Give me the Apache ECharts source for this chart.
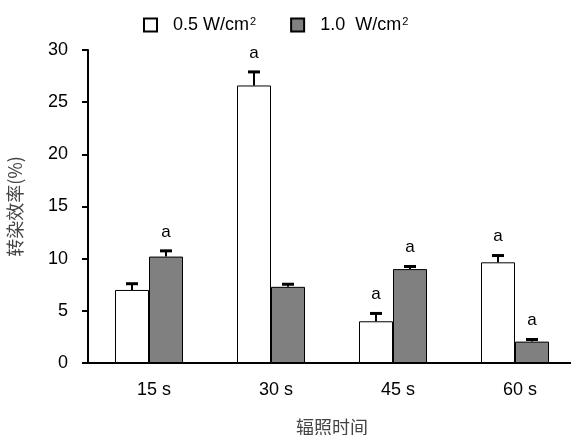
<!DOCTYPE html>
<html>
<head>
<meta charset="utf-8">
<script src="https://cdn.jsdelivr.net/npm/echarts@6/dist/echarts.min.js"></script>
<style>html,body{margin:0;padding:0;background:#fff}#c{width:571px;height:435px}</style>
</head>
<body>
<div id="c"></div>
<script>
var categories = ['15 s', '30 s', '45 s', '60 s'];
var seriesNames = ['0.5 W/cm2', '1.0  W/cm2'];
var lowPower = [7.0, 26.6, 4.0, 9.65];
var lowPowerErr = [0.6, 1.3, 0.75, 0.65];
var lowPowerSig = ['', 'a', 'a', 'a'];
var highPower = [10.2, 7.3, 9.0, 2.05];
var highPowerErr = [0.55, 0.25, 0.25, 0.2];
var highPowerSig = ['a', '', 'a', 'a'];
var yTicks = [0, 5, 10, 15, 20, 25, 30];

var FONT = '"Liberation Sans", Arial, sans-serif';
var CJK = '"Noto Sans CJK SC", sans-serif';
var BAR_W = 34;

function errData(means, errs, sig) {
  return means.map(function (m, i) { return [i, m, errs[i], sig[i]]; });
}

function makeErrRender(side) {
  return function (params, api) {
    var idx = api.value(0), mean = api.value(1), err = api.value(2);
    var p0 = api.coord([idx, mean]);
    var p1 = api.coord([idx, mean + err]);
    var x = p0[0] + side * BAR_W / 2;
    return { type: 'group', children: [
      { type: 'line', shape: { x1: x, y1: p0[1], x2: x, y2: p1[1] },
        style: { stroke: '#000', lineWidth: 2 } },
      { type: 'line', shape: { x1: x - 6, y1: p1[1], x2: x + 6, y2: p1[1] },
        style: { stroke: '#000', lineWidth: 3 } }
    ] };
  };
}

function makeLabelRender(side, sig) {
  return function (params, api) {
    var idx = api.value(0), mean = api.value(1), err = api.value(2);
    var p1 = api.coord([idx, mean + err]);
    var x = p1[0] + side * BAR_W / 2;
    return { type: 'text', style: { text: sig[params.dataIndex], x: x, y: p1[1] - 19,
      align: 'center', verticalAlign: 'middle', font: '17px ' + FONT, fill: '#000' } };
  };
}

var chart = echarts.init(document.getElementById('c'), null, { renderer: 'canvas' });
chart.setOption({
  animation: false,
  backgroundColor: '#fff',
  legend: {
    left: 143, top: 16, padding: 0,
    itemWidth: 13, itemHeight: 13, itemGap: 34,
    icon: 'rect',
    data: seriesNames,
    formatter: function (n) { return n.replace('2', '') + '{s|2}'; },
    textStyle: {
      fontFamily: FONT, fontSize: 18, color: '#000', padding: [0, 0, 0, 11],
      rich: { s: { fontFamily: FONT, fontSize: 11, verticalAlign: 'top', color: '#000', padding: [0, 0, 6, 1] } }
    }
  },
  grid: { left: 88, top: 50, width: 488, height: 313, containLabel: false, outerBoundsMode: 'none' },
  xAxis: {
    type: 'category',
    data: categories,
    name: '辐照时间',
    nameLocation: 'middle',
    nameGap: 55,
    nameTextStyle: { fontFamily: CJK, fontSize: 18, color: '#444' },
    axisLine: { lineStyle: { color: '#000', width: 2 } },
    axisTick: { length: 6, lineStyle: { color: '#000', width: 2 } },
    axisLabel: { fontFamily: FONT, fontSize: 18, color: '#000', margin: 18, padding: [0, 0, 0, 10] }
  },
  yAxis: {
    type: 'value',
    min: 0, max: 30, interval: 5,
    name: '转染效率(%)',
    nameLocation: 'middle',
    nameGap: 64,
    nameTextStyle: { fontFamily: CJK, fontSize: 18, color: '#444' },
    axisLine: { show: true, lineStyle: { color: '#000', width: 2 } },
    axisTick: { show: true, length: 6, lineStyle: { color: '#000', width: 2 } },
    splitLine: { show: false },
    axisLabel: { fontFamily: FONT, fontSize: 18, color: '#000', margin: 20,
      formatter: function (v) { return yTicks.indexOf(v) >= 0 ? String(v) : ''; } }
  },
  series: [
    { name: seriesNames[0], type: 'bar', data: lowPower, barWidth: BAR_W, barGap: '0%',
      itemStyle: { color: '#fff', borderColor: '#000', borderWidth: 1 } },
    { name: seriesNames[1], type: 'bar', data: highPower, barWidth: BAR_W, barGap: '0%',
      itemStyle: { color: '#808080', borderColor: '#000', borderWidth: 1 } },
    { type: 'custom', renderItem: makeErrRender(-1), data: errData(lowPower, lowPowerErr, lowPowerSig), z: 5 },
    { type: 'custom', renderItem: makeErrRender(1), data: errData(highPower, highPowerErr, highPowerSig), z: 5 },
    { type: 'custom', renderItem: makeLabelRender(-1, lowPowerSig), data: errData(lowPower, lowPowerErr, lowPowerSig), z: 6 },
    { type: 'custom', renderItem: makeLabelRender(1, highPowerSig), data: errData(highPower, highPowerErr, highPowerSig), z: 6 }
  ]
});
</script>
</body>
</html>
